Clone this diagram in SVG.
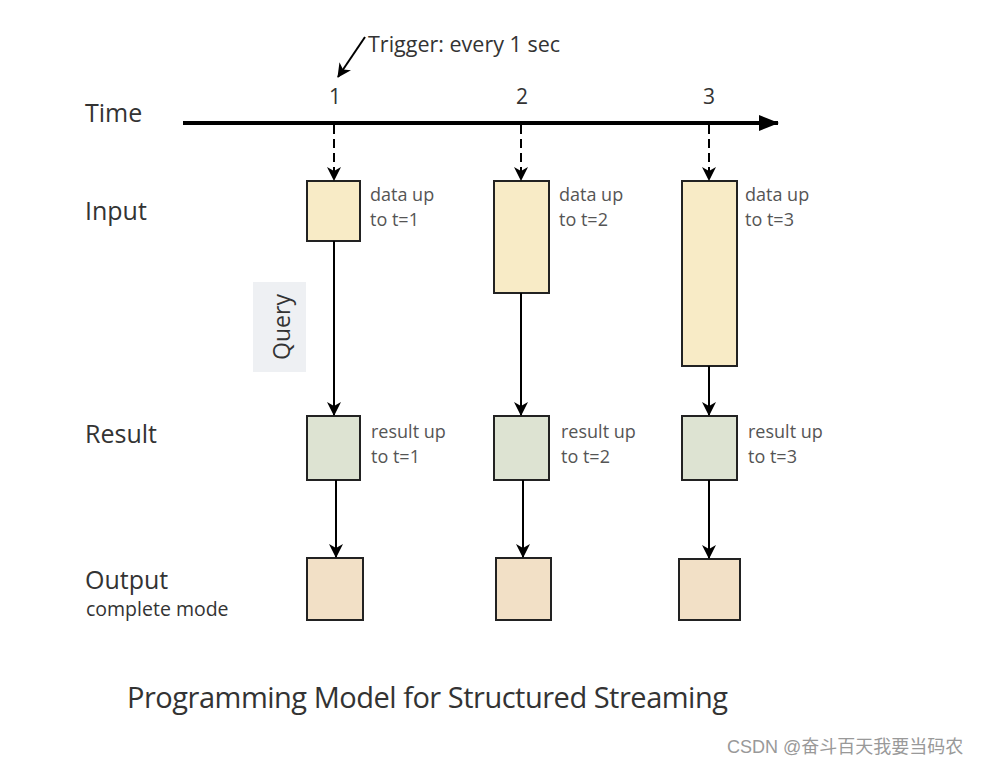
<svg xmlns="http://www.w3.org/2000/svg" width="982" height="767" viewBox="0 0 982 767">
<style>
.lbl{font-family:"Open Sans","Noto Sans",sans-serif;fill:#333;}
.big{font-size:25px;}
.small{font-size:18px;fill:#555;}
.num{font-size:21px;}
.box{stroke:#222;stroke-width:2;}
.in{fill:#f8ebc6;}
.res{fill:#dde3d2;}
.out{fill:#f2e0c6;}
.con{stroke:#000;stroke-width:2;fill:none;marker-end:url(#ah);}
.dash{stroke-dasharray:9 5;}
</style>
<defs>
<marker id="ah" viewBox="0 0 14 14" refX="13" refY="7" markerWidth="14" markerHeight="14" markerUnits="userSpaceOnUse" orient="auto">
<path d="M0,0 L14,7 L0,14 L4,7 Z" fill="#000"/>
</marker>
<marker id="ahBig" viewBox="0 0 20 20" refX="19" refY="10" markerWidth="20" markerHeight="20" markerUnits="userSpaceOnUse" orient="auto">
<path d="M0,2 L20,10 L0,18 Z" fill="#000"/>
</marker>
</defs>
<rect width="982" height="767" fill="#fff"/>

<g id="row-labels">
<text class="lbl big" x="85" y="122">Time</text>
<text class="lbl big" x="85" y="220">Input</text>
<text class="lbl big" x="85" y="443">Result</text>
<text class="lbl big" x="85" y="589">Output</text>
<text class="lbl" x="86" y="616" font-size="19.5">complete mode</text>
</g>

<g id="time-axis">
<line x1="183" y1="123" x2="778" y2="123" stroke="#000" stroke-width="4" marker-end="url(#ahBig)"/>
<text class="lbl num" x="335" y="104" text-anchor="middle">1</text>
<text class="lbl num" x="522" y="104" text-anchor="middle">2</text>
<text class="lbl num" x="709" y="104" text-anchor="middle">3</text>
</g>

<g id="trigger">
<text class="lbl" x="368" y="52" font-size="21.5">Trigger: every 1 sec</text>
</g>

<g id="query">
<rect x="253" y="282" width="53" height="90" fill="#eef0f3"/>
<text class="lbl" x="0" y="0" font-size="23" text-anchor="middle" transform="translate(290,327) rotate(-90)">Query</text>
</g>

<g id="input1"><rect class="box in" x="307" y="181" width="53" height="60"/>
<text class="lbl small" x="370" y="201">data up</text><text class="lbl small" x="370" y="226">to t=1</text></g>
<g id="input2"><rect class="box in" x="494" y="181" width="55" height="112"/>
<text class="lbl small" x="559" y="201">data up</text><text class="lbl small" x="559" y="226">to t=2</text></g>
<g id="input3"><rect class="box in" x="682" y="181" width="55" height="185"/>
<text class="lbl small" x="745" y="201">data up</text><text class="lbl small" x="745" y="226">to t=3</text></g>

<g id="result1"><rect class="box res" x="307" y="416" width="53" height="64"/>
<text class="lbl small" x="371" y="438">result up</text><text class="lbl small" x="371" y="463">to t=1</text></g>
<g id="result2"><rect class="box res" x="494" y="416" width="55" height="64"/>
<text class="lbl small" x="561" y="438">result up</text><text class="lbl small" x="561" y="463">to t=2</text></g>
<g id="result3"><rect class="box res" x="682" y="416" width="55" height="64"/>
<text class="lbl small" x="748" y="438">result up</text><text class="lbl small" x="748" y="463">to t=3</text></g>

<g id="output1"><rect class="box out" x="307" y="558" width="56" height="62"/></g>
<g id="output2"><rect class="box out" x="496" y="558" width="55" height="62"/></g>
<g id="output3"><rect class="box out" x="679" y="559" width="61" height="61"/></g>

<g id="connectors">
<line class="con" x1="365" y1="37" x2="338" y2="77" stroke-width="2.5"/>
<line class="con dash" x1="334" y1="125" x2="334" y2="180"/>
<line class="con dash" x1="521" y1="125" x2="521" y2="180"/>
<line class="con dash" x1="709" y1="125" x2="709" y2="180"/>
<line class="con" x1="334" y1="241" x2="334" y2="415"/>
<line class="con" x1="521" y1="293" x2="521" y2="415"/>
<line class="con" x1="709" y1="366" x2="709" y2="415"/>
<line class="con" x1="336" y1="480" x2="336" y2="557"/>
<line class="con" x1="523" y1="480" x2="523" y2="557"/>
<line class="con" x1="709" y1="480" x2="709" y2="558"/>
</g>

<g id="title">
<text class="lbl" x="127" y="708" font-size="29" textLength="601">Programming Model for Structured Streaming</text>
</g>
<g id="watermark">
<text x="727" y="753" font-size="18" fill="#999" font-family="'Liberation Sans','Noto Sans CJK SC',sans-serif">CSDN @奋斗百天我要当码农</text>
</g>
</svg>
